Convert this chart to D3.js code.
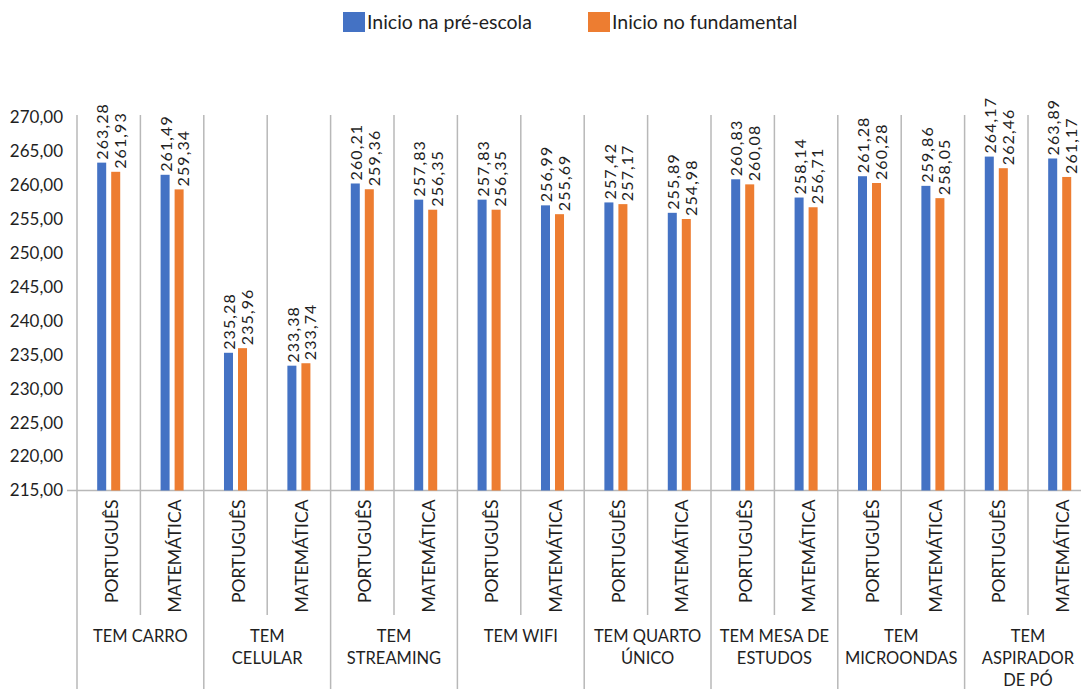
<!DOCTYPE html>
<html>
<head>
<meta charset="utf-8">
<script src="https://cdn.jsdelivr.net/npm/d3@7"></script>
<style>
  html, body { margin: 0; padding: 0; background: #fff; }
  svg { display: block; font-family: Lato, "Open Sans", sans-serif; }
</style>
</head>
<body>
<svg id="chart" width="1081" height="689"></svg>
<script>
// Groups (outer category level) and subjects (inner level)
const groups = [
  ["TEM CARRO"],
  ["TEM", "CELULAR"],
  ["TEM", "STREAMING"],
  ["TEM WIFI"],
  ["TEM QUARTO", "ÚNICO"],
  ["TEM MESA DE", "ESTUDOS"],
  ["TEM", "MICROONDAS"],
  ["TEM", "ASPIRADOR", "DE PÓ"]
];
const subjects = ["PORTUGUÊS", "MATEMÁTICA"];

const seriesNames = ["Inicio na pré-escola", "Inicio no fundamental"];
const seriesColors = ["#4472C4", "#ED7D31"];

// Mean scores per (group, subject), in group order: Português, Matemática
const preEscola = [
  263.28, 261.49,
  235.28, 233.38,
  260.21, 257.83,
  257.83, 256.99,
  257.42, 255.89,
  260.83, 258.14,
  261.28, 259.86,
  264.17, 263.89
];
const fundamental = [
  261.93, 259.34,
  235.96, 233.74,
  259.36, 256.35,
  256.35, 255.69,
  257.17, 254.98,
  260.08, 256.71,
  260.28, 258.05,
  262.46, 261.17
];

const yTicks = [215, 220, 225, 230, 235, 240, 245, 250, 255, 260, 265, 270];

// Flattened categories
const cats = [];
groups.forEach((g, gi) => subjects.forEach((s, si) => cats.push({ id: gi + "-" + si, group: gi, subject: s })));
const seriesValues = [preEscola, fundamental];

const ptBR = d3.formatLocale({ decimal: ",", thousands: ".", grouping: [3], currency: ["R$", ""] });
const fmt = ptBR.format(".2f");

const svg = d3.select("#chart");
const textColor = "#1f1f1f";
const gridColor = "#b8b8b8";

const plotLeft = 77, plotTop = 115, plotBottom = 490.5;

const x = d3.scaleBand()
  .domain(cats.map(c => c.id))
  .range([plotLeft, plotLeft + 63.4 * cats.length])
  .padding(0);

const xInner = d3.scaleBand()
  .domain([0, 1])
  .range([0, x.bandwidth()])
  .paddingInner(0.357)
  .paddingOuter(1.44);

const y = d3.scaleLinear().domain([215, 270]).range([plotBottom, 117]);

// Vertical grid lines at category boundaries
const bounds = d3.range(cats.length + 1).map(i => plotLeft + x.step() * i);
svg.append("g").selectAll("line").data(bounds).join("line")
  .attr("x1", d => d).attr("x2", d => d)
  .attr("y1", plotTop).attr("y2", plotBottom)
  .attr("stroke", gridColor).attr("stroke-width", 1.5);

// Category axis separators below the plot
svg.append("g").selectAll("line").data(bounds).join("line")
  .attr("x1", d => d).attr("x2", d => d)
  .attr("y1", plotBottom)
  .attr("y2", (d, i) => (i % 2 === 0 ? 689 : 615))
  .attr("stroke", gridColor).attr("stroke-width", 1.5);

// Horizontal category axis line
svg.append("line")
  .attr("x1", 67).attr("x2", 1081)
  .attr("y1", plotBottom).attr("y2", plotBottom)
  .attr("stroke", gridColor).attr("stroke-width", 1.5);

// Y axis labels
const yAxis = d3.axisLeft(y).tickValues(yTicks).tickSize(0).tickPadding(0).tickFormat(fmt);
const yg = svg.append("g").attr("transform", "translate(63,0)").call(yAxis);
yg.select(".domain").remove();
yg.selectAll("text").attr("font-size", 17).attr("fill", textColor)
  .attr("font-family", "Lato, 'Open Sans', sans-serif");

// Bars
const barG = svg.append("g");
seriesValues.forEach((vals, si) => {
  barG.append("g").selectAll("rect").data(cats).join("rect")
    .attr("x", (c) => x(c.id) + xInner(si))
    .attr("width", xInner.bandwidth())
    .attr("y", (c, i) => y(vals[i]))
    .attr("height", (c, i) => y(215) - y(vals[i]))
    .attr("fill", seriesColors[si]);
});

// Data labels (rotated); the second series' labels are nudged right to keep them apart
const labelShift = [1, 4.5];
seriesValues.forEach((vals, si) => {
  svg.append("g").selectAll("text").data(cats).join("text")
    .attr("transform", (c, i) => {
      const cx = x(c.id) + xInner(si) + xInner.bandwidth() / 2 + labelShift[si];
      return `translate(${cx},${y(vals[i]) - 3}) rotate(-90)`;
    })
    .attr("dy", "0.36em")
    .attr("text-anchor", "start")
    .attr("font-size", 16)
    .attr("letter-spacing", 1.1)
    .attr("fill", textColor)
    .text((c, i) => fmt(vals[i]));
});

// Subject labels (rotated)
svg.append("g").selectAll("text").data(cats).join("text")
  .attr("transform", c => `translate(${x(c.id) + x.bandwidth() / 2 + 3},${plotBottom + 9}) rotate(-90)`)
  .attr("dy", "0.35em")
  .attr("text-anchor", "end")
  .attr("font-size", 17.5)
  .attr("fill", textColor)
  .text(c => c.subject);

// Group labels
const gl = svg.append("g");
groups.forEach((lines, gi) => {
  const cx = plotLeft + x.step() * (gi * 2 + 1);
  const t = gl.append("text")
    .attr("text-anchor", "middle")
    .attr("font-size", 16.5)
    .attr("fill", textColor);
  lines.forEach((ln, li) => {
    t.append("tspan").attr("x", cx).attr("y", 642 + li * 22).text(ln);
  });
});

// Legend
const legendX = [343, 588];
const lg = svg.append("g");
seriesNames.forEach((name, i) => {
  lg.append("rect").attr("x", legendX[i]).attr("y", 12).attr("width", 22).attr("height", 20)
    .attr("fill", seriesColors[i]);
  lg.append("text").attr("x", legendX[i] + 24).attr("y", 28.5)
    .attr("font-size", 19.5).attr("fill", textColor).text(name);
});
</script>
</body>
</html>
